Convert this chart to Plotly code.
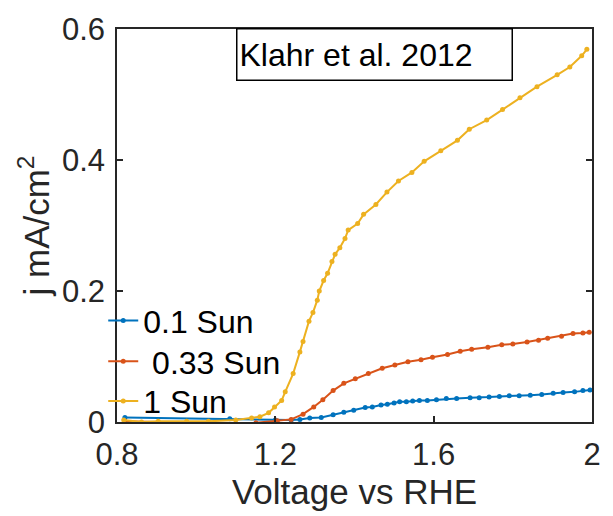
import plotly.graph_objects as go

# 0.1 Sun
v_01 = [0.820, 1.085, 1.200, 1.240, 1.262, 1.287, 1.316, 1.346, 1.373, 1.398, 1.427, 1.445,
        1.467, 1.483, 1.500, 1.514, 1.531, 1.547, 1.564, 1.584, 1.607, 1.632, 1.658, 1.692,
        1.715, 1.740, 1.766, 1.791, 1.816, 1.844, 1.873, 1.902, 1.927, 1.956, 1.977, 1.995]
j_01 = [0.007, 0.005, 0.003, 0.003, 0.004, 0.006, 0.007, 0.011, 0.015, 0.018, 0.022, 0.023,
        0.026, 0.027, 0.029, 0.031, 0.031, 0.032, 0.033, 0.033, 0.034, 0.036, 0.036, 0.037,
        0.037, 0.038, 0.039, 0.040, 0.040, 0.041, 0.042, 0.044, 0.045, 0.046, 0.048, 0.049]

# 0.33 Sun
v_033 = [0.820, 1.040, 1.151, 1.205, 1.240, 1.270, 1.297, 1.320, 1.346, 1.373, 1.402, 1.435,
         1.470, 1.502, 1.535, 1.568, 1.597, 1.635, 1.667, 1.696, 1.737, 1.772, 1.800, 1.836,
         1.865, 1.888, 1.923, 1.952, 1.977, 1.993]
j_033 = [0.001, -0.002, -0.001, 0.002, 0.004, 0.012, 0.023, 0.034, 0.048, 0.059, 0.066, 0.074,
         0.082, 0.087, 0.092, 0.095, 0.099, 0.103, 0.108, 0.111, 0.114, 0.118, 0.119, 0.122,
         0.125, 0.128, 0.131, 0.135, 0.136, 0.137]

# 1 Sun
v_1 = [0.817, 0.862, 0.904, 0.976, 1.031, 1.100, 1.140, 1.161, 1.183, 1.198, 1.216, 1.225,
       1.245, 1.262, 1.270, 1.285, 1.295, 1.306, 1.311, 1.322, 1.332, 1.343, 1.351, 1.363,
       1.376, 1.384, 1.408, 1.423, 1.454, 1.482, 1.511, 1.545, 1.576, 1.618, 1.660, 1.690,
       1.734, 1.774, 1.818, 1.861, 1.912, 1.944, 1.974, 1.987]
j_1 = [0.003, 0.000, 0.001, 0.001, 0.001, 0.003, 0.006, 0.008, 0.014, 0.023, 0.033, 0.046,
       0.074, 0.107, 0.123, 0.154, 0.167, 0.186, 0.200, 0.216, 0.227, 0.245, 0.256, 0.266,
       0.280, 0.293, 0.303, 0.317, 0.332, 0.351, 0.368, 0.381, 0.398, 0.414, 0.430, 0.447,
       0.461, 0.477, 0.495, 0.512, 0.530, 0.542, 0.559, 0.569]

series_names = ["0.1 Sun", "\u00a00.33 Sun", "1 Sun"]
colors = ["#0072BD", "#D95319", "#EDB120"]
x_ticks = [0.8, 1.2, 1.6, 2.0]
x_ticklabels = ["0.8", "1.2", "1.6", "2"]
y_ticks = [0, 0.2, 0.4, 0.6]
y_ticklabels = ["0", "0.2", "0.4", "0.6"]

FONT = "Liberation Sans, Arial, Helvetica, sans-serif"
AX = "#262626"

legend_ids = ["legend", "legend2", "legend3"]
legend_rows = [0.258, 0.154, 0.053]

fig = go.Figure()
for xs, ys, name, c, lg in zip([v_01, v_033, v_1], [j_01, j_033, j_1], series_names, colors, legend_ids):
    fig.add_trace(go.Scatter(x=xs, y=ys, name=name, mode="lines+markers",
                             line=dict(color=c, width=2),
                             marker=dict(color=c, size=5), legend=lg))

axis_common = dict(showline=True, linecolor=AX, linewidth=1.5, mirror="ticks",
                   ticks="inside", ticklen=6, tickwidth=1.5, tickcolor=AX,
                   showgrid=False, zeroline=False,
                   tickfont=dict(family=FONT, size=31, color=AX))

legend_style = dict(x=-0.029, xanchor="left", yanchor="middle",
                    bgcolor="rgba(255,255,255,0)", borderwidth=0,
                    font=dict(family=FONT, size=32, color="black"),
                    itemwidth=30)

fig.update_layout(
    width=613, height=516,
    margin=dict(l=117, r=12, t=27, b=94),
    paper_bgcolor="white", plot_bgcolor="white",
    font=dict(family=FONT, color=AX),
    xaxis=dict(range=[0.8, 2.0], tickvals=x_ticks, ticktext=x_ticklabels,
               title=dict(text="Voltage vs RHE", font=dict(family=FONT, size=35, color=AX),
                          standoff=2),
               ticklabelstandoff=4, **axis_common),
    yaxis=dict(range=[0, 0.6], tickvals=y_ticks, ticktext=y_ticklabels,
               title=dict(text="j mA/cm<sup>2</sup>", font=dict(family=FONT, size=35, color=AX),
                          standoff=2),
               ticklabelstandoff=4, **axis_common),
    legend=dict(y=legend_rows[0], **legend_style),
    legend2=dict(y=legend_rows[1], **legend_style),
    legend3=dict(y=legend_rows[2], **legend_style),
    showlegend=True,
)

fig.add_annotation(xref="paper", yref="paper", x=0.543, y=0.934,
                   xanchor="center", yanchor="middle",
                   text="Klahr et al. 2012", showarrow=False,
                   font=dict(family=FONT, size=32, color="black"),
                   align="left", width=270, height=46,
                   bordercolor="black", borderwidth=1.5, borderpad=2,
                   bgcolor="white")

fig.write_html("out.html")
